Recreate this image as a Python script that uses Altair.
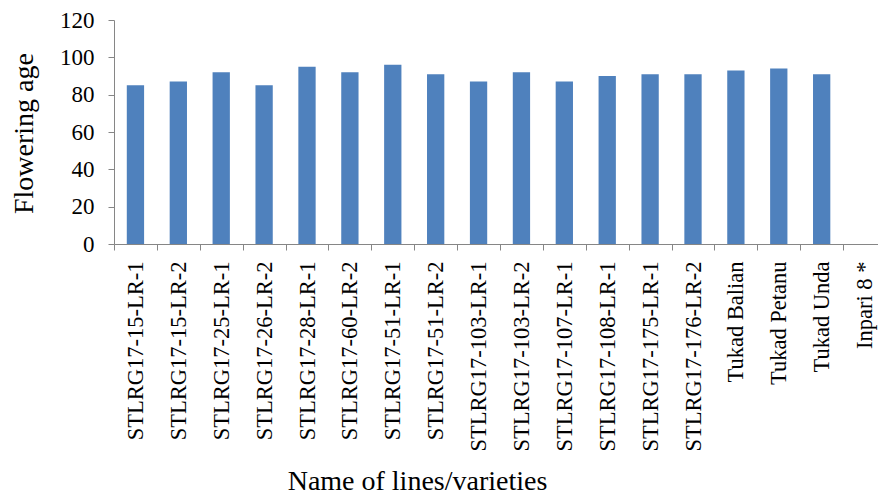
import altair as alt
import pandas as pd

# Flowering age (days) of the tested lines and check varieties
lines = [
    "STLRG17-15-LR-1", "STLRG17-15-LR-2", "STLRG17-25-LR-1", "STLRG17-26-LR-2",
    "STLRG17-28-LR-1", "STLRG17-60-LR-2", "STLRG17-51-LR-1", "STLRG17-51-LR-2",
    "STLRG17-103-LR-1", "STLRG17-103-LR-2", "STLRG17-107-LR-1", "STLRG17-108-LR-1",
    "STLRG17-175-LR-1", "STLRG17-176-LR-2", "Tukad Balian", "Tukad Petanu",
    "Tukad Unda", "Inpari 8 *",
]
flowering_age = [85, 87, 92, 85, 95, 92, 96, 91, 87, 92, 87, 90, 91, 91, 93, 94, 91, None]
y_ticks = [0, 20, 40, 60, 80, 100, 120]

df = pd.DataFrame({"line": lines, "age": flowering_age})

FONT = "'Times New Roman', 'Liberation Serif', serif"
AXIS_GREY = "#868686"

chart = (
    alt.Chart(df)
    .mark_bar(size=17.3, color="#4F81BD")
    .encode(
        x=alt.X(
            "line:N",
            scale=alt.Scale(domain=lines, range=[0, 772], paddingInner=0, paddingOuter=0),
            axis=alt.Axis(
                title="Name of lines/varieties",
                tickBand="extent",
                labelAngle=270,
                labelFont=FONT,
                labelFontSize=22.5,
                labelColor="black",
                labelPadding=11,
                labelLimit=400,
                tickSize=6,
                tickColor=AXIS_GREY,
                domainColor=AXIS_GREY,
                titleFont=FONT,
                titleFontSize=28,
                titleFontWeight="normal",
                titleColor="black",
                titleX=303,
                titleY=245,
                titleAlign="center",
                titleBaseline="alphabetic",
            ),
        ),
        y=alt.Y(
            "age:Q",
            scale=alt.Scale(domain=[0, 120], nice=False),
            axis=alt.Axis(
                title="Flowering age",
                values=y_ticks,
                grid=False,
                labelFont=FONT,
                labelFontSize=23,
                labelColor="black",
                labelPadding=14,
                tickSize=6,
                tickColor=AXIS_GREY,
                domainColor=AXIS_GREY,
                titleFont=FONT,
                titleFontSize=28,
                titleFontWeight="normal",
                titleColor="black",
                titleAngle=270,
                titleX=-82,
                titleY=113,
                titleAlign="center",
                titleBaseline="alphabetic",
            ),
        ),
    )
    .properties(
        width=764,
        height=224,
        autosize=alt.AutoSizeParams(type="none"),
        padding={"left": 114, "top": 20, "right": 0, "bottom": 253},
        background="white",
    )
    .configure_view(stroke=None)
)

chart.save("out.html", embed_options={"renderer": "svg", "actions": False})
